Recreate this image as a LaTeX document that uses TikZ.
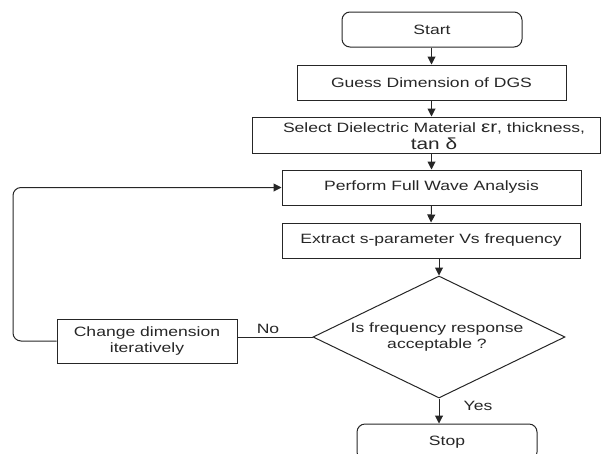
\documentclass[tikz,border=0pt]{standalone}
\usepackage{fontspec}
\setmainfont{Liberation Sans}[FakeStretch=1.3]
\usetikzlibrary{shapes.geometric,arrows.meta}
\begin{document}
\begin{tikzpicture}[x=1pt,y=-1pt,
  box/.style={draw=black!85, line width=1pt, inner sep=0pt, align=center,
    font=\fontsize{13.5}{16.5}\selectfont, text=black!85},
  txt/.style={inner sep=0pt, align=center, font=\fontsize{13.5}{16.5}\selectfont, text=black!85},
  arr/.style={draw=black!85, line width=1pt, -{Triangle[length=8pt,width=8pt]}},
  ln/.style={draw=black!85, line width=1pt}
]
\useasboundingbox (0,0) rectangle (601,453);
\node[box, rounded corners=8pt, minimum width=180pt, minimum height=35pt] (start) at (432,29.5) {Start};
\node[box, minimum width=269pt, minimum height=35pt] (guess) at (431.5,82.5) {Guess Dimension of DGS};
\node[box, minimum width=348pt, minimum height=36pt] (sel) at (426,135) {};
\node[txt] (selt) at (434,136) {Select Dielectric Material {\fontsize{16}{16}\selectfont εr}, thickness,\\[0pt]{\fontsize{16}{16}\selectfont tan δ}};
\node[box, minimum width=299pt, minimum height=35pt] (perf) at (431.5,187.5) {Perform Full Wave Analysis};
\node[box, minimum width=298pt, minimum height=35pt] (ext) at (431,240.5) {Extract s-parameter Vs frequency};
\node[box, diamond, aspect=2.07, minimum width=252pt, minimum height=122pt] (dia) at (439,337) {};
\node[txt] (diat) at (437,337) {Is frequency response\\acceptable ?};
\node[box, minimum width=180pt, minimum height=44pt] (chg) at (147,341) {Change dimension\\iteratively};
\node[box, rounded corners=8pt, minimum width=180pt, minimum height=36pt] (stop) at (447,442) {Stop};
\node[txt] (no) at (268,329) {No};
\node[txt] (yes) at (478,406) {Yes};
\coordinate (lp) at (13,0);

\draw[arr] (start.south -| guess.north) -- (guess.north);
\draw[arr] (guess.south) -- (guess.south |- sel.north);
\draw[arr] (perf.north |- sel.south) -- (perf.north);
\draw[arr] (perf.south) -- (ext.north);
\draw[arr] (dia.north |- ext.south) -- (dia.north);
\draw[arr] (dia.south) -- (dia.south |- stop.north);
\draw[ln] (dia.west) -- (dia.west -| chg.east);
\draw[arr, rounded corners=8pt] (chg.west) -- (chg.west -| lp) |- (perf.west);
\end{tikzpicture}
\end{document}
